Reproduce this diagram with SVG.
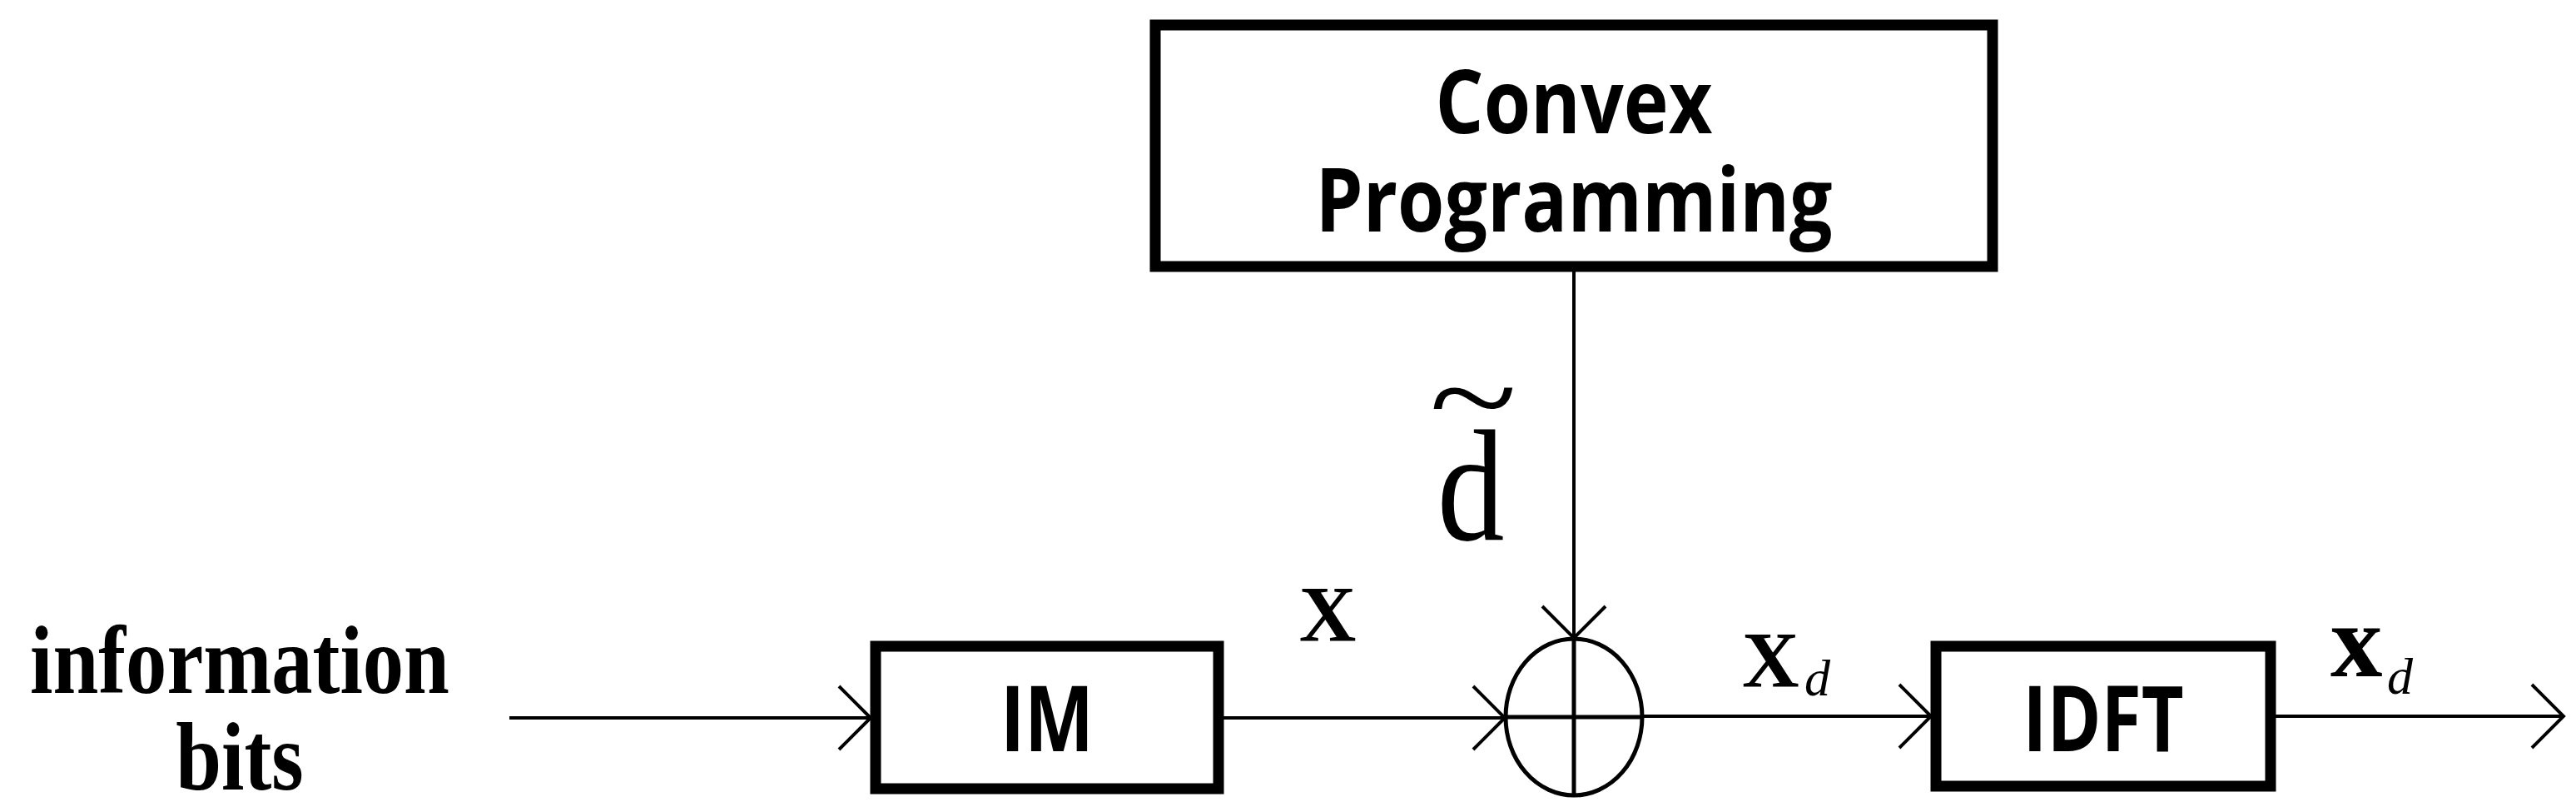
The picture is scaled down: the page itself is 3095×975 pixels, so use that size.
<svg xmlns="http://www.w3.org/2000/svg" width="3095" height="975" viewBox="0 0 3095 975">
<style>
.box{fill:#fff;stroke:#000;stroke-width:13}
.ln{fill:none;stroke:#000;stroke-width:4}
.cal{font-family:"Open Sans","Liberation Sans",sans-serif;font-weight:bold;text-anchor:middle}
.tm{font-family:"Liberation Serif","Times New Roman",serif}
</style>
<defs>
<marker id="a" markerUnits="userSpaceOnUse" markerWidth="60" markerHeight="90" refX="46" refY="40" orient="auto" viewBox="0 0 60 90">
<path d="M8,2 L46,40 L8,78" fill="none" stroke="#000" stroke-width="4"/>
</marker>
</defs>
<rect width="3095" height="975" fill="#fff"/>
<g id="connectors">
<line class="ln" x1="612" y1="862" x2="1046" y2="862" marker-end="url(#a)"/>
<line class="ln" x1="1470" y1="862" x2="1808" y2="862" marker-end="url(#a)"/>
<line class="ln" x1="1891" y1="326" x2="1891" y2="766" marker-end="url(#a)"/>
<line class="ln" x1="1974" y1="860" x2="2320" y2="860" marker-end="url(#a)"/>
<line class="ln" x1="2734" y1="860" x2="3080" y2="860" marker-end="url(#a)"/>
</g>
<g id="convex">
<rect class="box" x="1388" y="30" width="1006" height="290"/>
<text class="cal" transform="translate(1891,160) scale(0.86,1)" font-size="106">Convex</text>
<text class="cal" transform="translate(1891,278) scale(0.86,1)" font-size="106">Programming</text>
</g>
<g id="im">
<rect class="box" x="1052" y="776" width="412" height="171"/>
<text class="cal" transform="translate(1258,902) scale(0.8,1)" font-size="110">IM</text>
</g>
<g id="sum">
<ellipse cx="1891" cy="861" rx="82" ry="94" fill="#fff" stroke="#000" stroke-width="5"/>
<line x1="1891" y1="767" x2="1891" y2="955" stroke="#000" stroke-width="5"/>
<line x1="1809" y1="861" x2="1973" y2="861" stroke="#000" stroke-width="5"/>
</g>
<g id="idft">
<rect class="box" x="2326" y="776" width="402" height="168"/>
<text class="cal" transform="translate(2527,902) scale(0.8,1)" font-size="110">IDFT</text>
</g>
<g id="labels" class="tm">
<text transform="translate(288,832) scale(0.85,1)" font-size="116" font-weight="bold" text-anchor="middle">information</text>
<text transform="translate(288,948) scale(0.85,1)" font-size="116" font-weight="bold" text-anchor="middle">bits</text>
<text transform="translate(1767,648) scale(0.85,1)" font-size="190" text-anchor="middle">d</text>
<text transform="translate(1770,528) scale(1.3,1)" font-size="150" text-anchor="middle">~</text>
<text x="1595" y="770" font-size="95" font-weight="bold" text-anchor="middle">X</text>
<text x="2093" y="825" font-size="95" font-weight="bold">X</text>
<text x="2168" y="835" font-size="62" font-style="italic">d</text>
<text x="2800" y="812" font-size="125" font-weight="bold">x</text>
<text x="2868" y="833" font-size="62" font-style="italic">d</text>
</g>
</svg>
